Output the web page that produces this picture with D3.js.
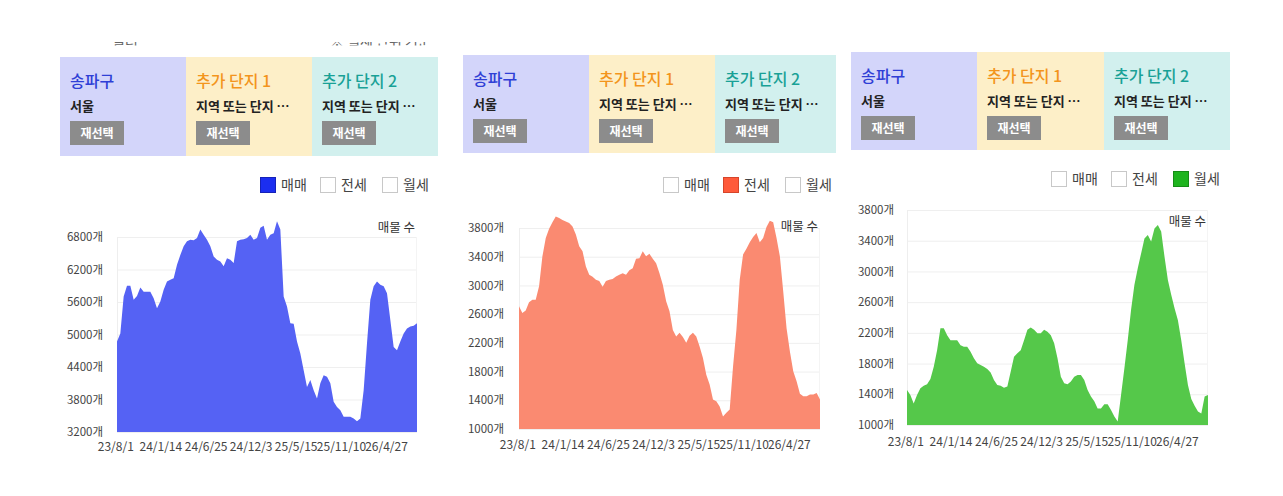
<!DOCTYPE html>
<html><head><meta charset="utf-8">
<script src="https://cdn.jsdelivr.net/npm/d3@7"></script>
<style>body{margin:0;background:#fff;overflow:hidden} svg{display:block}</style>
</head><body><svg id="c" width="1283" height="496"></svg>
<script>
// ---------- data ----------
const tickLabels = ["23/8/1","24/1/14","24/6/25","24/12/3","25/5/15","25/11/10","26/4/27"];
const tickIndex = [-0.5, 13.0, 26.6, 40.1, 53.6, 67.2, 80.7]; // position of each label in point index
const legendLabels = ["매매","전세","월세"];
const headerTitles = ["송파구","추가 단지 1","추가 단지 2"];
const headerSubs = ["서울","지역 또는 단지 …","지역 또는 단지 …"];
const buttonLabel = "재선택";
const unitLabel = "매물 수";

const saleTicks = [3200,3800,4400,5000,5600,6200,6800];
const rentTicks = [1000,1400,1800,2200,2600,3000,3400,3800];

const saleValues = [4870,5020,5700,5900,5900,5640,5710,5870,5790,5790,
  5790,5670,5485,5610,5825,5980,6010,6040,6290,6470,
  6630,6720,6750,6740,6780,6940,6840,6750,6630,6440,
  6380,6350,6260,6410,6380,6320,6720,6750,6760,6780,
  6840,6750,6780,6970,7010,6750,6840,6870,7090,6940,
  5700,5515,5210,5200,4870,4650,4340,4030,4160,3970,
  3820,4100,4250,4220,4100,3760,3660,3600,3480,3480,
  3480,3450,3400,3450,3970,4840,5640,5890,5980,5920,
  5890,5760,5270,4770,4710,4870,5020,5110,5150,5160,5210];

const jeonseValues = [2710,2615,2650,2765,2800,2800,2990,3405,3660,3790,
  3880,3960,3940,3910,3890,3870,3820,3710,3545,3475,
  3265,3150,3120,3080,3060,2980,3060,3080,3090,3125,
  3150,3170,3150,3210,3240,3370,3380,3475,3405,3440,
  3370,3310,3170,3010,2780,2640,2380,2290,2340,2280,
  2200,2300,2340,2290,2150,1990,1755,1620,1410,1385,
  1315,1175,1225,1270,1870,2380,3080,3430,3510,3600,
  3675,3730,3600,3660,3815,3900,3880,3660,3405,2920,
  2405,2080,1805,1665,1490,1455,1455,1480,1480,1500,1410];

const wolseValues = [1455,1390,1280,1390,1480,1510,1530,1600,1760,1975,
  2260,2260,2170,2105,2105,2105,2040,2020,2020,1955,
  1870,1805,1780,1760,1730,1685,1585,1520,1510,1485,
  1500,1695,1890,1935,1975,2105,2240,2270,2240,2195,
  2195,2240,2215,2170,2065,1870,1630,1545,1530,1565,
  1630,1650,1650,1585,1455,1370,1310,1215,1215,1270,
  1270,1195,1110,1045,1390,1740,2105,2500,2825,3040,
  3235,3430,3475,3390,3560,3605,3520,3190,2890,2695,
  2520,2365,2105,1805,1520,1340,1250,1175,1150,1370,1390];

// ---------- styles / layout ----------
const FONT = "'Noto Sans CJK KR','Noto Sans',sans-serif";
const cellColors = ["#d3d5fa","#fdefc8","#d2f0ee"];
const titleColors = ["#2f3fd6","#f3951c","#19a196"];
const areaColors = ["#5562f4","#fa8a71","#55c84a"];
const legendColors = ["#1b2ef0","#ff5a3a","#1eb41e"];
const legendBorders = ["#1522b8","#d6452a","#168c16"];

const panels = [
  {values: saleValues, ticks: saleTicks, domain:[3200,6800], active:0,
   hx:60, hy:57, cellW:[126,126,126], hh:99, legY:177,
   px0:117, px1:417, py0:432, py1:237, tickY:454, unitY:232, labelX:103, note:true},
  {values: jeonseValues, ticks: rentTicks, domain:[1000,3800], active:1,
   hx:463, hy:55, cellW:[126,126,121], hh:98, legY:177,
   px0:519, px1:820, py0:429, py1:228, tickY:452, unitY:231, labelX:504},
  {values: wolseValues, ticks: rentTicks, domain:[1000,3800], active:2,
   hx:851, hy:52, cellW:[126,127,126], hh:98, legY:171,
   px0:907, px1:1208, py0:425, py1:210, tickY:449, unitY:226, labelX:894}
];

const svg = d3.select("#c");
const defs = svg.append("defs");
defs.append("clipPath").attr("id","noteclip").append("rect")
  .attr("x",0).attr("y",42).attr("width",1283).attr("height",3.5);

panels.forEach((p, pi) => {
  const g = svg.append("g");

  if (p.note) {
    g.append("text").attr("clip-path","url(#noteclip)")
      .attr("x",112).attr("y",46).attr("font-family",FONT).attr("font-size",14)
      .attr("fill","#666").text("필터");
    g.append("text").attr("clip-path","url(#noteclip)")
      .attr("x",330).attr("y",46).attr("font-family",FONT).attr("font-size",14)
      .attr("fill","#666").text("※ 월세 단위 기준");
  }

  // header cells
  let cx = p.hx;
  p.cellW.forEach((w, ci) => {
    g.append("rect").attr("x",cx).attr("y",p.hy).attr("width",w).attr("height",p.hh)
      .attr("fill",cellColors[ci]);
    g.append("text").attr("x",cx+10).attr("y",p.hy+30)
      .attr("font-family",FONT).attr("font-size",16).attr("font-weight",500)
      .attr("fill",titleColors[ci]).text(headerTitles[ci]);
    g.append("text").attr("x",cx+10).attr("y",p.hy+54)
      .attr("font-family",FONT).attr("font-size",13).attr("font-weight",700)
      .attr("fill","#222").text(headerSubs[ci]);
    g.append("rect").attr("x",cx+10).attr("y",p.hy+64).attr("width",54).attr("height",24)
      .attr("fill","#8c8c8c");
    g.append("text").attr("x",cx+37).attr("y",p.hy+80.5).attr("text-anchor","middle")
      .attr("font-family",FONT).attr("font-size",12).attr("font-weight",700)
      .attr("fill","#fff").text(buttonLabel);
    cx += w;
  });

  // legend
  const legOff = [200,260,322];
  legendLabels.forEach((lab, li) => {
    const lx = p.hx + legOff[li];
    const on = li === p.active;
    g.append("rect").attr("x",lx+0.5).attr("y",p.legY+0.5).attr("width",15).attr("height",15)
      .attr("fill", on ? legendColors[li] : "#fff")
      .attr("stroke", on ? legendBorders[li] : "#c8c8c8").attr("stroke-width",1);
    g.append("text").attr("x",lx+21).attr("y",p.legY+13)
      .attr("font-family",FONT).attr("font-size",14).attr("fill","#444").text(lab);
  });

  // scales
  const x = d3.scaleLinear().domain([0, p.values.length-1]).range([p.px0, p.px1]);
  const y = d3.scaleLinear().domain(p.domain).range([p.py0, p.py1]);

  // grid
  g.append("g").selectAll("line").data(p.ticks).join("line")
    .attr("x1",p.px0).attr("x2",p.px1)
    .attr("y1",d=>y(d)+0.5).attr("y2",d=>y(d)+0.5)
    .attr("stroke","#efefef").attr("stroke-width",1);
  g.append("line").attr("x1",p.px0+0.5).attr("x2",p.px0+0.5)
    .attr("y1",y(p.domain[1])).attr("y2",p.py0).attr("stroke","#eeeeee");
  g.append("line").attr("x1",p.px1-0.5).attr("x2",p.px1-0.5)
    .attr("y1",y(p.domain[1])).attr("y2",p.py0).attr("stroke","#f4f4f4");

  // area
  const area = d3.area().x((d,i)=>x(i)).y0(p.py0).y1(d=>y(d)).curve(d3.curveLinear);
  g.append("path").datum(p.values).attr("d",area).attr("fill",areaColors[pi]);

  // y axis labels
  const yAxis = d3.axisLeft(y).tickValues(p.ticks).tickSize(0).tickPadding(0)
    .tickFormat(d => d + "개");
  const ya = g.append("g").attr("transform",`translate(${p.labelX},0)`).call(yAxis);
  ya.select(".domain").remove();
  ya.selectAll("text").attr("font-family",FONT).attr("font-size",11.5).attr("fill","#444");

  // x axis labels
  const xa = g.append("g").attr("transform",`translate(0,${p.tickY-12})`)
    .call(d3.axisBottom(x).tickValues(tickIndex).tickSize(0).tickPadding(0)
      .tickFormat((d,i)=>tickLabels[i]));
  xa.select(".domain").remove();
  xa.selectAll("text").attr("font-family",FONT).attr("font-size",12).attr("fill","#444")
    .attr("dy","0.71em");

  // unit label
  g.append("text").attr("x",p.px1-2).attr("y",p.unitY).attr("text-anchor","end")
    .attr("font-family",FONT).attr("font-size",12.5).attr("fill","#333").text(unitLabel);
});
</script>
</body></html>
